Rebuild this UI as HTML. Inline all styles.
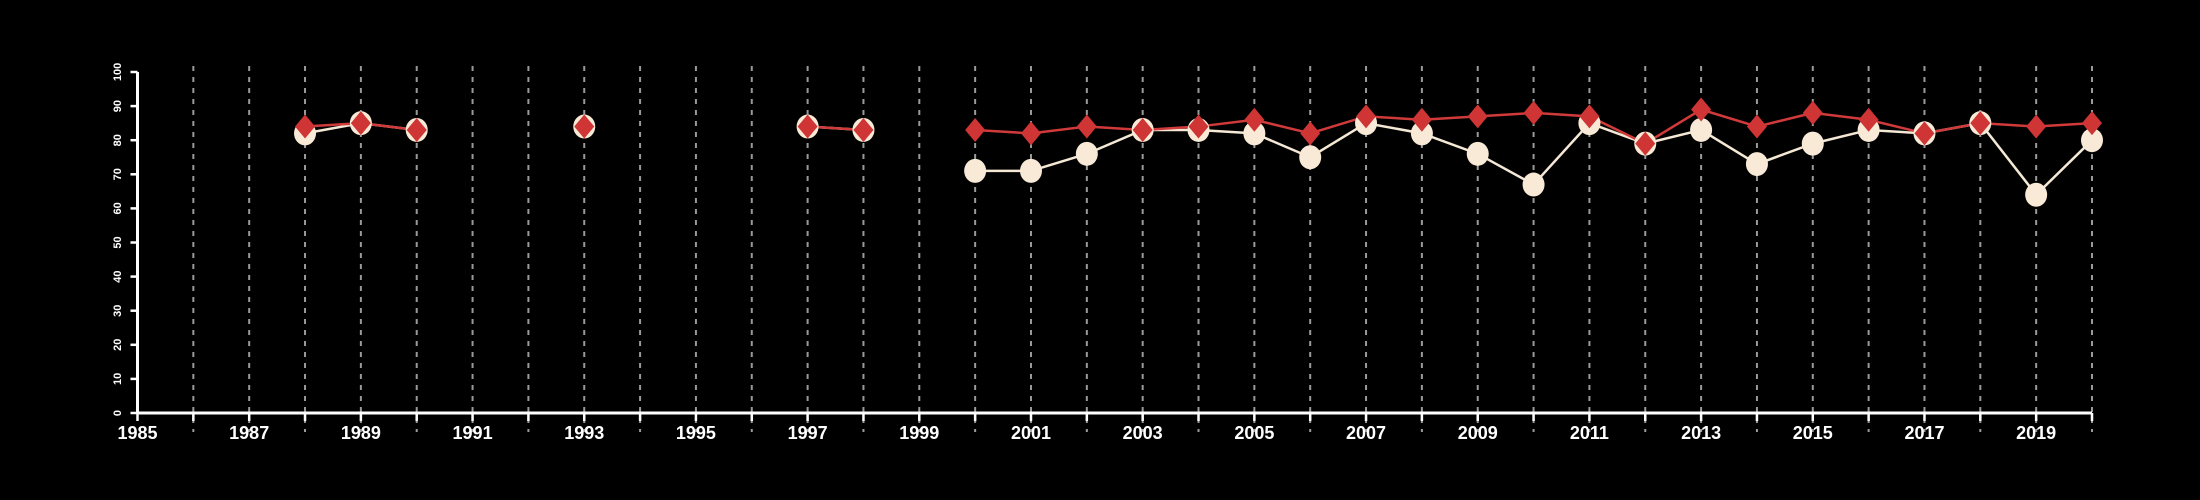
<!DOCTYPE html>
<html><head><meta charset="utf-8"><style>
html,body{margin:0;padding:0;background:#000;}
svg{display:block;font-family:"Liberation Sans",sans-serif;}
</style></head><body>
<svg id="chart" width="2200" height="500" viewBox="0 0 2200 500" xmlns="http://www.w3.org/2000/svg">
<rect width="2200" height="500" fill="#000"/>
<g id="grid"></g>
<g id="axes"></g>
<g id="series"></g>
</svg>
<script>
const years = [1988,1989,1990,1991,1992,1993,1994,1995,1996,1997,1998,1999,2000,2001,2002,2003,2004,2005,2006,2007,2008,2009,2010,2011,2012,2013,2014,2015,2016,2017,2018,2019,2020];
const redValues = [84,85,83,null,null,84,null,null,null,84,83,null,83,82,84,83,84,86,82,87,86,87,88,87,79,89,84,88,86,82,85,84,85];
const creamValues = [82,85,83,null,null,84,null,null,null,84,83,null,71,71,76,83,83,82,75,85,82,76,67,85,79,83,73,79,83,82,85,64,80];
const yTicks = [0,10,20,30,40,50,60,70,80,90,100];
const xStart = 1985, xEnd = 2020;

const NS = "http://www.w3.org/2000/svg";
const X0 = 137.5, X1 = 2092, Y0 = 413, Y1 = 72;
function xs(v){ return X0 + (v - xStart) / (xEnd - xStart) * (X1 - X0); }
function ys(v){ return Y0 - v / 100 * (Y0 - Y1); }
function mk(tag, attrs, parent){ const e = document.createElementNS(NS, tag); for (const k in attrs) e.setAttribute(k, attrs[k]); parent.appendChild(e); return e; }

const grid = document.getElementById('grid');
const axes = document.getElementById('axes');
const series = document.getElementById('series');

for (let yr = xStart + 1; yr <= xEnd; yr++) {
  const g = mk('line', {x1: xs(yr), x2: xs(yr), y1: 66, y2: 432, stroke: '#9a9a9a', 'stroke-width': 2, 'stroke-dasharray': '5,6'}, grid);
  
  
}

const xa = mk('line', {x1: X0, x2: X1, y1: Y0, y2: Y0, stroke: '#fff', 'stroke-width': 3}, axes);


const ya = mk('line', {x1: X0, x2: X0, y1: Y0, y2: Y1, stroke: '#fff', 'stroke-width': 3}, axes);



for (let yr = xStart; yr <= xEnd; yr++) {
  const t = mk('line', {x1: xs(yr), x2: xs(yr), y1: Y0, y2: Y0 + 8, stroke: '#fff', 'stroke-width': 2.5}, axes);
  
  
  if ((yr - xStart) % 2 === 0) {
    const l = mk('text', {x: xs(yr), y: Y0 + 26, fill: '#fff', 'font-size': 18, 'font-weight': 'bold', 'text-anchor': 'middle'}, axes);
    l.textContent = yr;
    
    
  }
}
yTicks.forEach(v => {
  const t = mk('line', {x1: X0 - 7, x2: X0, y1: ys(v), y2: ys(v), stroke: '#fff', 'stroke-width': 2.5}, axes);
  
  
  const l = mk('text', {x: 0, y: 0, fill: '#fff', 'font-size': 11, 'font-weight': 'bold', 'text-anchor': 'middle', transform: 'translate(121,' + ys(v) + ') rotate(-90)'}, axes);
  l.textContent = v;
  
  
});

function drawLine(vals, color, name){
  let d = '', pen = false;
  vals.forEach((v, i) => {
    if (v === null) { pen = false; return; }
    d += (pen ? 'L' : 'M') + xs(years[i]) + ',' + ys(v);
    pen = true;
  });
  const p = mk('path', {d: d, fill: 'none', stroke: color, 'stroke-width': 2.5}, series);
  
  
}
drawLine(creamValues, '#f5e9d6', 'cream-series-line');
drawLine(redValues, '#d03a3a', 'red-series-line');

creamValues.forEach((v, i) => {
  if (v === null) return;
  const c = mk('ellipse', {cx: xs(years[i]), cy: ys(v), rx: 11, ry: 12, fill: '#f8ead6'}, series);
  
  
});
redValues.forEach((v, i) => {
  if (v === null) return;
  const x = xs(years[i]), y = ys(v);
  const p = mk('polygon', {points: `${x},${y-12} ${x+10},${y} ${x},${y+12} ${x-10},${y}`, fill: '#d03535'}, series);
  
  
});
</script>
</body></html>
